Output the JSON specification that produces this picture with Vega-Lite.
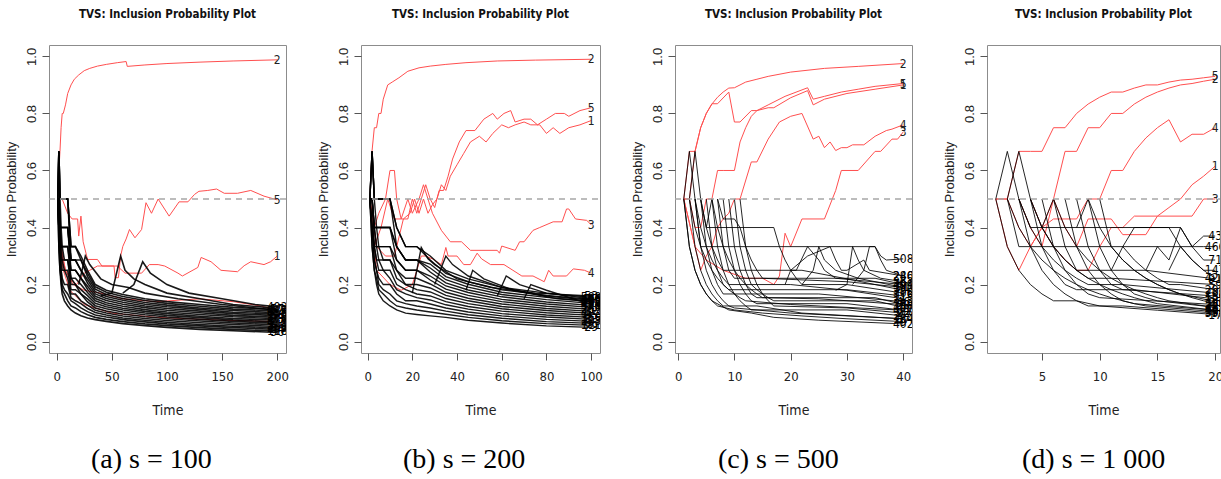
{
"$schema":"https://vega.github.io/schema/vega-lite/v6.json",
"padding":{"left":4,"top":8,"right":0,"bottom":0},
"background":"white",
"config":{
"view":{"stroke":"#8c8c8c","strokeWidth":1},
"font":"Liberation Sans",
"axis":{"grid":false,"domain":false,"ticks":true,"tickColor":"#555555","tickSize":7,"labelColor":"#222222","titleColor":"#222222","titleFontWeight":"normal"},
"axisX":{"labelFont":"Liberation Sans Narrow, DejaVu Sans Condensed, sans-serif","labelFontSize":13,"labelPadding":10,"titleFont":"Liberation Sans Narrow, DejaVu Sans Condensed, sans-serif","titleFontSize":14,"titlePadding":20,"labelFlush":false,"labelOverlap":false},
"axisY":{"labelFont":"Liberation Sans","labelFontSize":13,"labelAngle":-90,"labelAlign":"center","labelBaseline":"bottom","labelPadding":4,"titleFont":"Liberation Sans","titleFontSize":13,"titlePadding":7},
"concat":{"spacing":26}
},
"datasets":{
"aR":[
{"v":"2","t":1,"y":0.5},{"v":"2","t":2,"y":0.6},{"v":"2","t":3,"y":0.667},{"v":"2","t":4,"y":0.75},{"v":"2","t":5,"y":0.8},{"v":"2","t":6,"y":0.8},{"v":"2","t":8,"y":0.83},{"v":"2","t":10,"y":0.87},{"v":"2","t":13,"y":0.9},{"v":"2","t":16,"y":0.92},{"v":"2","t":20,"y":0.935},{"v":"2","t":25,"y":0.95},{"v":"2","t":30,"y":0.958},{"v":"2","t":37,"y":0.966},{"v":"2","t":45,"y":0.972},{"v":"2","t":55,"y":0.978},{"v":"2","t":63,"y":0.982},{"v":"2","t":64,"y":0.965},{"v":"2","t":80,"y":0.97},{"v":"2","t":100,"y":0.975},{"v":"2","t":130,"y":0.98},{"v":"2","t":160,"y":0.984},{"v":"2","t":200,"y":0.988},
{"v":"5","t":1,"y":0.5},{"v":"5","t":3,"y":0.4},{"v":"5","t":5,"y":0.3},{"v":"5","t":8,"y":0.25},{"v":"5","t":12,"y":0.22},{"v":"5","t":18,"y":0.2},{"v":"5","t":25,"y":0.24},{"v":"5","t":30,"y":0.25},{"v":"5","t":37,"y":0.265},{"v":"5","t":52,"y":0.265},{"v":"5","t":53,"y":0.224},{"v":"5","t":56,"y":0.224},{"v":"5","t":58,"y":0.3},{"v":"5","t":60,"y":0.334},{"v":"5","t":63,"y":0.36},{"v":"5","t":66,"y":0.393},{"v":"5","t":71,"y":0.364},{"v":"5","t":77,"y":0.393},{"v":"5","t":81,"y":0.487},{"v":"5","t":86,"y":0.45},{"v":"5","t":92,"y":0.5},{"v":"5","t":102,"y":0.44},{"v":"5","t":111,"y":0.49},{"v":"5","t":119,"y":0.49},{"v":"5","t":125,"y":0.516},{"v":"5","t":129,"y":0.527},{"v":"5","t":137,"y":0.53},{"v":"5","t":145,"y":0.535},{"v":"5","t":152,"y":0.52},{"v":"5","t":164,"y":0.52},{"v":"5","t":176,"y":0.53},{"v":"5","t":188,"y":0.51},{"v":"5","t":200,"y":0.497},
{"v":"1","t":1,"y":0.5},{"v":"1","t":5,"y":0.5},{"v":"1","t":10,"y":0.45},{"v":"1","t":14,"y":0.43},{"v":"1","t":19,"y":0.43},{"v":"1","t":20,"y":0.37},{"v":"1","t":22,"y":0.44},{"v":"1","t":24,"y":0.35},{"v":"1","t":28,"y":0.288},{"v":"1","t":37,"y":0.288},{"v":"1","t":41,"y":0.265},{"v":"1","t":55,"y":0.265},{"v":"1","t":62,"y":0.24},{"v":"1","t":77,"y":0.24},{"v":"1","t":84,"y":0.27},{"v":"1","t":92,"y":0.27},{"v":"1","t":98,"y":0.265},{"v":"1","t":110,"y":0.24},{"v":"1","t":114,"y":0.23},{"v":"1","t":128,"y":0.26},{"v":"1","t":131,"y":0.295},{"v":"1","t":140,"y":0.28},{"v":"1","t":149,"y":0.25},{"v":"1","t":164,"y":0.245},{"v":"1","t":170,"y":0.266},{"v":"1","t":176,"y":0.28},{"v":"1","t":188,"y":0.27},{"v":"1","t":194,"y":0.28},{"v":"1","t":200,"y":0.3},
{"v":"3","t":1,"y":0.5},{"v":"3","t":4,"y":0.333},{"v":"3","t":8,"y":0.25},{"v":"3","t":15,"y":0.2},{"v":"3","t":25,"y":0.18},{"v":"3","t":40,"y":0.17},{"v":"3","t":60,"y":0.15},{"v":"3","t":90,"y":0.14},{"v":"3","t":130,"y":0.15},{"v":"3","t":160,"y":0.14},{"v":"3","t":185,"y":0.125},{"v":"3","t":200,"y":0.11},
{"v":"4","t":1,"y":0.5},{"v":"4","t":3,"y":0.333},{"v":"4","t":6,"y":0.25},{"v":"4","t":12,"y":0.18},{"v":"4","t":25,"y":0.13},{"v":"4","t":50,"y":0.1},{"v":"4","t":90,"y":0.085},{"v":"4","t":150,"y":0.075},{"v":"4","t":200,"y":0.07}
],
"aK":[
{"v":"36","t":1,"y":0.5},{"v":"36","t":2,"y":0.333},{"v":"36","t":3,"y":0.25},{"v":"36","t":4,"y":0.2},{"v":"36","t":5,"y":0.167},{"v":"36","t":7,"y":0.143},{"v":"36","t":10,"y":0.125},{"v":"36","t":13,"y":0.111},{"v":"36","t":17,"y":0.1},{"v":"36","t":22,"y":0.091},{"v":"36","t":28,"y":0.083},{"v":"36","t":35,"y":0.077},{"v":"36","t":45,"y":0.071},{"v":"36","t":60,"y":0.063},{"v":"36","t":80,"y":0.056},{"v":"36","t":100,"y":0.05},{"v":"36","t":130,"y":0.043},{"v":"36","t":160,"y":0.038},{"v":"36","t":200,"y":0.032},
{"v":"118","t":1,"y":0.5},{"v":"118","t":2,"y":0.333},{"v":"118","t":3,"y":0.25},{"v":"118","t":4,"y":0.222},{"v":"118","t":5,"y":0.182},{"v":"118","t":7,"y":0.167},{"v":"118","t":10,"y":0.143},{"v":"118","t":13,"y":0.125},{"v":"118","t":17,"y":0.118},{"v":"118","t":22,"y":0.105},{"v":"118","t":28,"y":0.094},{"v":"118","t":35,"y":0.085},{"v":"118","t":45,"y":0.078},{"v":"118","t":60,"y":0.07},{"v":"118","t":80,"y":0.062},{"v":"118","t":100,"y":0.056},{"v":"118","t":130,"y":0.049},{"v":"118","t":160,"y":0.043},{"v":"118","t":200,"y":0.037},
{"v":"64","t":1,"y":0.5},{"v":"64","t":2,"y":0.4},{"v":"64","t":3,"y":0.286},{"v":"64","t":4,"y":0.25},{"v":"64","t":5,"y":0.2},{"v":"64","t":7,"y":0.182},{"v":"64","t":10,"y":0.167},{"v":"64","t":13,"y":0.143},{"v":"64","t":17,"y":0.133},{"v":"64","t":22,"y":0.118},{"v":"64","t":28,"y":0.105},{"v":"64","t":35,"y":0.093},{"v":"64","t":45,"y":0.086},{"v":"64","t":60,"y":0.077},{"v":"64","t":80,"y":0.069},{"v":"64","t":100,"y":0.062},{"v":"64","t":130,"y":0.055},{"v":"64","t":160,"y":0.049},{"v":"64","t":200,"y":0.043},
{"v":"209","t":1,"y":0.5},{"v":"209","t":2,"y":0.4},{"v":"209","t":3,"y":0.286},{"v":"209","t":4,"y":0.25},{"v":"209","t":5,"y":0.222},{"v":"209","t":7,"y":0.2},{"v":"209","t":10,"y":0.2},{"v":"209","t":13,"y":0.154},{"v":"209","t":17,"y":0.143},{"v":"209","t":22,"y":0.133},{"v":"209","t":28,"y":0.116},{"v":"209","t":35,"y":0.102},{"v":"209","t":45,"y":0.093},{"v":"209","t":60,"y":0.083},{"v":"209","t":80,"y":0.075},{"v":"209","t":100,"y":0.068},{"v":"209","t":130,"y":0.06},{"v":"209","t":160,"y":0.054},{"v":"209","t":200,"y":0.048},
{"v":"301","t":1,"y":0.5},{"v":"301","t":2,"y":0.4},{"v":"301","t":3,"y":0.333},{"v":"301","t":4,"y":0.286},{"v":"301","t":5,"y":0.25},{"v":"301","t":7,"y":0.25},{"v":"301","t":10,"y":0.222},{"v":"301","t":13,"y":0.167},{"v":"301","t":17,"y":0.167},{"v":"301","t":22,"y":0.143},{"v":"301","t":28,"y":0.128},{"v":"301","t":35,"y":0.11},{"v":"301","t":45,"y":0.1},{"v":"301","t":60,"y":0.09},{"v":"301","t":80,"y":0.081},{"v":"301","t":100,"y":0.074},{"v":"301","t":130,"y":0.066},{"v":"301","t":160,"y":0.06},{"v":"301","t":200,"y":0.053},
{"v":"244","t":1,"y":0.5},{"v":"244","t":2,"y":0.4},{"v":"244","t":3,"y":0.333},{"v":"244","t":4,"y":0.286},{"v":"244","t":5,"y":0.286},{"v":"244","t":7,"y":0.25},{"v":"244","t":10,"y":0.25},{"v":"244","t":13,"y":0.182},{"v":"244","t":17,"y":0.182},{"v":"244","t":22,"y":0.167},{"v":"244","t":28,"y":0.139},{"v":"244","t":35,"y":0.118},{"v":"244","t":45,"y":0.107},{"v":"244","t":60,"y":0.097},{"v":"244","t":80,"y":0.087},{"v":"244","t":100,"y":0.08},{"v":"244","t":130,"y":0.072},{"v":"244","t":160,"y":0.065},{"v":"244","t":200,"y":0.059},
{"v":"87","t":1,"y":0.5},{"v":"87","t":2,"y":0.5},{"v":"87","t":3,"y":0.333},{"v":"87","t":4,"y":0.333},{"v":"87","t":5,"y":0.286},{"v":"87","t":7,"y":0.286},{"v":"87","t":10,"y":0.286},{"v":"87","t":13,"y":0.2},{"v":"87","t":17,"y":0.2},{"v":"87","t":22,"y":0.167},{"v":"87","t":28,"y":0.15},{"v":"87","t":35,"y":0.126},{"v":"87","t":45,"y":0.115},{"v":"87","t":60,"y":0.104},{"v":"87","t":80,"y":0.094},{"v":"87","t":100,"y":0.086},{"v":"87","t":130,"y":0.078},{"v":"87","t":160,"y":0.071},{"v":"87","t":200,"y":0.064},
{"v":"412","t":1,"y":0.5},{"v":"412","t":2,"y":0.5},{"v":"412","t":3,"y":0.4},{"v":"412","t":4,"y":0.333},{"v":"412","t":5,"y":0.333},{"v":"412","t":7,"y":0.286},{"v":"412","t":10,"y":0.286},{"v":"412","t":13,"y":0.222},{"v":"412","t":17,"y":0.2},{"v":"412","t":22,"y":0.182},{"v":"412","t":28,"y":0.161},{"v":"412","t":35,"y":0.134},{"v":"412","t":45,"y":0.122},{"v":"412","t":60,"y":0.111},{"v":"412","t":80,"y":0.1},{"v":"412","t":100,"y":0.092},{"v":"412","t":130,"y":0.084},{"v":"412","t":160,"y":0.076},{"v":"412","t":200,"y":0.069},
{"v":"156","t":1,"y":0.5},{"v":"156","t":2,"y":0.5},{"v":"156","t":3,"y":0.4},{"v":"156","t":4,"y":0.333},{"v":"156","t":5,"y":0.333},{"v":"156","t":7,"y":0.333},{"v":"156","t":10,"y":0.333},{"v":"156","t":13,"y":0.222},{"v":"156","t":17,"y":0.222},{"v":"156","t":22,"y":0.2},{"v":"156","t":28,"y":0.172},{"v":"156","t":35,"y":0.143},{"v":"156","t":45,"y":0.129},{"v":"156","t":60,"y":0.117},{"v":"156","t":80,"y":0.106},{"v":"156","t":100,"y":0.098},{"v":"156","t":130,"y":0.089},{"v":"156","t":160,"y":0.081},{"v":"156","t":200,"y":0.075},
{"v":"73","t":1,"y":0.5},{"v":"73","t":2,"y":0.5},{"v":"73","t":3,"y":0.4},{"v":"73","t":4,"y":0.4},{"v":"73","t":5,"y":0.333},{"v":"73","t":7,"y":0.333},{"v":"73","t":10,"y":0.333},{"v":"73","t":13,"y":0.25},{"v":"73","t":17,"y":0.25},{"v":"73","t":22,"y":0.222},{"v":"73","t":28,"y":0.183},{"v":"73","t":35,"y":0.151},{"v":"73","t":45,"y":0.136},{"v":"73","t":60,"y":0.124},{"v":"73","t":80,"y":0.112},{"v":"73","t":100,"y":0.104},{"v":"73","t":130,"y":0.095},{"v":"73","t":160,"y":0.087},{"v":"73","t":200,"y":0.08},
{"v":"329","t":1,"y":0.5},{"v":"329","t":2,"y":0.5},{"v":"329","t":3,"y":0.4},{"v":"329","t":4,"y":0.4},{"v":"329","t":5,"y":0.4},{"v":"329","t":7,"y":0.4},{"v":"329","t":10,"y":0.4},{"v":"329","t":13,"y":0.25},{"v":"329","t":17,"y":0.25},{"v":"329","t":22,"y":0.222},{"v":"329","t":28,"y":0.194},{"v":"329","t":35,"y":0.159},{"v":"329","t":45,"y":0.144},{"v":"329","t":60,"y":0.131},{"v":"329","t":80,"y":0.119},{"v":"329","t":100,"y":0.11},{"v":"329","t":130,"y":0.101},{"v":"329","t":160,"y":0.092},{"v":"329","t":200,"y":0.085},
{"v":"268","t":1,"y":0.5},{"v":"268","t":2,"y":0.5},{"v":"268","t":3,"y":0.4},{"v":"268","t":4,"y":0.4},{"v":"268","t":5,"y":0.4},{"v":"268","t":7,"y":0.4},{"v":"268","t":10,"y":0.4},{"v":"268","t":13,"y":0.286},{"v":"268","t":17,"y":0.286},{"v":"268","t":22,"y":0.25},{"v":"268","t":28,"y":0.205},{"v":"268","t":35,"y":0.167},{"v":"268","t":45,"y":0.151},{"v":"268","t":60,"y":0.138},{"v":"268","t":80,"y":0.125},{"v":"268","t":100,"y":0.116},{"v":"268","t":130,"y":0.107},{"v":"268","t":160,"y":0.098},{"v":"268","t":200,"y":0.091},
{"v":"190","t":1,"y":0.5},{"v":"190","t":2,"y":0.667},{"v":"190","t":3,"y":0.5},{"v":"190","t":4,"y":0.4},{"v":"190","t":5,"y":0.4},{"v":"190","t":7,"y":0.4},{"v":"190","t":10,"y":0.4},{"v":"190","t":13,"y":0.286},{"v":"190","t":17,"y":0.286},{"v":"190","t":22,"y":0.25},{"v":"190","t":28,"y":0.217},{"v":"190","t":35,"y":0.175},{"v":"190","t":45,"y":0.158},{"v":"190","t":60,"y":0.145},{"v":"190","t":80,"y":0.131},{"v":"190","t":100,"y":0.122},{"v":"190","t":130,"y":0.113},{"v":"190","t":160,"y":0.103},{"v":"190","t":200,"y":0.096},
{"v":"455","t":1,"y":0.5},{"v":"455","t":2,"y":0.667},{"v":"455","t":3,"y":0.5},{"v":"455","t":4,"y":0.5},{"v":"455","t":5,"y":0.5},{"v":"455","t":7,"y":0.5},{"v":"455","t":10,"y":0.5},{"v":"455","t":13,"y":0.286},{"v":"455","t":17,"y":0.286},{"v":"455","t":22,"y":0.286},{"v":"455","t":28,"y":0.228},{"v":"455","t":35,"y":0.184},{"v":"455","t":45,"y":0.165},{"v":"455","t":60,"y":0.151},{"v":"455","t":80,"y":0.137},{"v":"455","t":100,"y":0.128},{"v":"455","t":130,"y":0.118},{"v":"455","t":160,"y":0.109},{"v":"455","t":200,"y":0.101},
{"v":"377","t":1,"y":0.5},{"v":"377","t":2,"y":0.667},{"v":"377","t":3,"y":0.5},{"v":"377","t":4,"y":0.5},{"v":"377","t":5,"y":0.5},{"v":"377","t":7,"y":0.5},{"v":"377","t":10,"y":0.5},{"v":"377","t":13,"y":0.333},{"v":"377","t":17,"y":0.333},{"v":"377","t":22,"y":0.286},{"v":"377","t":28,"y":0.239},{"v":"377","t":35,"y":0.192},{"v":"377","t":45,"y":0.173},{"v":"377","t":60,"y":0.158},{"v":"377","t":80,"y":0.144},{"v":"377","t":100,"y":0.134},{"v":"377","t":130,"y":0.124},{"v":"377","t":160,"y":0.114},{"v":"377","t":200,"y":0.107},
{"v":"433","t":1,"y":0.5},{"v":"433","t":2,"y":0.667},{"v":"433","t":3,"y":0.5},{"v":"433","t":4,"y":0.5},{"v":"433","t":5,"y":0.5},{"v":"433","t":7,"y":0.5},{"v":"433","t":10,"y":0.5},{"v":"433","t":13,"y":0.333},{"v":"433","t":17,"y":0.333},{"v":"433","t":22,"y":0.3},{"v":"433","t":28,"y":0.25},{"v":"433","t":35,"y":0.2},{"v":"433","t":45,"y":0.18},{"v":"433","t":60,"y":0.165},{"v":"433","t":80,"y":0.15},{"v":"433","t":100,"y":0.14},{"v":"433","t":130,"y":0.13},{"v":"433","t":160,"y":0.12},{"v":"433","t":200,"y":0.112},
{"v":"57","t":40,"y":0.16},{"v":"57","t":50,"y":0.17},{"v":"57","t":58,"y":0.3},{"v":"57","t":62,"y":0.25},{"v":"57","t":70,"y":0.22},{"v":"57","t":80,"y":0.2},{"v":"57","t":100,"y":0.17},{"v":"57","t":130,"y":0.15},{"v":"57","t":160,"y":0.13},{"v":"57","t":190,"y":0.12},{"v":"57","t":200,"y":0.115},
{"v":"492","t":60,"y":0.17},{"v":"492","t":70,"y":0.2},{"v":"492","t":78,"y":0.28},{"v":"492","t":85,"y":0.24},{"v":"492","t":100,"y":0.2},{"v":"492","t":120,"y":0.17},{"v":"492","t":150,"y":0.15},{"v":"492","t":180,"y":0.13},{"v":"492","t":200,"y":0.122},
{"v":"12","t":20,"y":0.2},{"v":"12","t":26,"y":0.3},{"v":"12","t":30,"y":0.27},{"v":"12","t":40,"y":0.22},{"v":"12","t":50,"y":0.2},{"v":"12","t":65,"y":0.19},{"v":"12","t":80,"y":0.17},{"v":"12","t":110,"y":0.15},{"v":"12","t":150,"y":0.13},{"v":"12","t":200,"y":0.11}
],
"bR":[
{"v":"2","t":1,"y":0.5},{"v":"2","t":2,"y":0.67},{"v":"2","t":3,"y":0.75},{"v":"2","t":4,"y":0.75},{"v":"2","t":5,"y":0.8},{"v":"2","t":6,"y":0.8},{"v":"2","t":7,"y":0.85},{"v":"2","t":9,"y":0.9},{"v":"2","t":11,"y":0.91},{"v":"2","t":14,"y":0.925},{"v":"2","t":18,"y":0.948},{"v":"2","t":23,"y":0.96},{"v":"2","t":28,"y":0.966},{"v":"2","t":35,"y":0.972},{"v":"2","t":44,"y":0.978},{"v":"2","t":58,"y":0.984},{"v":"2","t":75,"y":0.987},{"v":"2","t":100,"y":0.99},
{"v":"5","t":1,"y":0.5},{"v":"5","t":3,"y":0.4},{"v":"5","t":5,"y":0.45},{"v":"5","t":8,"y":0.5},{"v":"5","t":10,"y":0.6},{"v":"5","t":12,"y":0.6},{"v":"5","t":13,"y":0.5},{"v":"5","t":15,"y":0.43},{"v":"5","t":18,"y":0.43},{"v":"5","t":20,"y":0.5},{"v":"5","t":22,"y":0.45},{"v":"5","t":24,"y":0.5},{"v":"5","t":26,"y":0.55},{"v":"5","t":28,"y":0.5},{"v":"5","t":30,"y":0.47},{"v":"5","t":32,"y":0.53},{"v":"5","t":34,"y":0.53},{"v":"5","t":36,"y":0.58},{"v":"5","t":38,"y":0.64},{"v":"5","t":41,"y":0.7},{"v":"5","t":44,"y":0.74},{"v":"5","t":48,"y":0.74},{"v":"5","t":52,"y":0.78},{"v":"5","t":56,"y":0.8},{"v":"5","t":58,"y":0.78},{"v":"5","t":61,"y":0.8},{"v":"5","t":64,"y":0.81},{"v":"5","t":66,"y":0.77},{"v":"5","t":70,"y":0.78},{"v":"5","t":73,"y":0.78},{"v":"5","t":76,"y":0.76},{"v":"5","t":80,"y":0.78},{"v":"5","t":84,"y":0.8},{"v":"5","t":88,"y":0.8},{"v":"5","t":90,"y":0.79},{"v":"5","t":95,"y":0.81},{"v":"5","t":100,"y":0.82},
{"v":"1","t":1,"y":0.5},{"v":"1","t":4,"y":0.333},{"v":"1","t":8,"y":0.3},{"v":"1","t":12,"y":0.3},{"v":"1","t":16,"y":0.43},{"v":"1","t":19,"y":0.45},{"v":"1","t":21,"y":0.5},{"v":"1","t":23,"y":0.45},{"v":"1","t":25,"y":0.5},{"v":"1","t":27,"y":0.45},{"v":"1","t":29,"y":0.48},{"v":"1","t":31,"y":0.5},{"v":"1","t":33,"y":0.55},{"v":"1","t":35,"y":0.53},{"v":"1","t":37,"y":0.58},{"v":"1","t":40,"y":0.62},{"v":"1","t":43,"y":0.66},{"v":"1","t":46,"y":0.7},{"v":"1","t":50,"y":0.72},{"v":"1","t":53,"y":0.7},{"v":"1","t":56,"y":0.73},{"v":"1","t":60,"y":0.76},{"v":"1","t":63,"y":0.75},{"v":"1","t":66,"y":0.76},{"v":"1","t":70,"y":0.77},{"v":"1","t":73,"y":0.76},{"v":"1","t":77,"y":0.76},{"v":"1","t":80,"y":0.73},{"v":"1","t":83,"y":0.75},{"v":"1","t":86,"y":0.73},{"v":"1","t":90,"y":0.75},{"v":"1","t":95,"y":0.76},{"v":"1","t":100,"y":0.775},
{"v":"3","t":1,"y":0.5},{"v":"3","t":3,"y":0.333},{"v":"3","t":6,"y":0.4},{"v":"3","t":9,"y":0.5},{"v":"3","t":12,"y":0.43},{"v":"3","t":15,"y":0.43},{"v":"3","t":18,"y":0.5},{"v":"3","t":20,"y":0.45},{"v":"3","t":23,"y":0.5},{"v":"3","t":25,"y":0.55},{"v":"3","t":27,"y":0.5},{"v":"3","t":29,"y":0.45},{"v":"3","t":33,"y":0.39},{"v":"3","t":37,"y":0.35},{"v":"3","t":42,"y":0.35},{"v":"3","t":46,"y":0.32},{"v":"3","t":58,"y":0.32},{"v":"3","t":59,"y":0.31},{"v":"3","t":60,"y":0.335},{"v":"3","t":66,"y":0.32},{"v":"3","t":68,"y":0.35},{"v":"3","t":70,"y":0.35},{"v":"3","t":74,"y":0.39},{"v":"3","t":77,"y":0.4},{"v":"3","t":83,"y":0.42},{"v":"3","t":87,"y":0.42},{"v":"3","t":89,"y":0.465},{"v":"3","t":90,"y":0.465},{"v":"3","t":93,"y":0.43},{"v":"3","t":98,"y":0.425},{"v":"3","t":100,"y":0.41},
{"v":"4","t":1,"y":0.5},{"v":"4","t":4,"y":0.25},{"v":"4","t":10,"y":0.2},{"v":"4","t":15,"y":0.18},{"v":"4","t":20,"y":0.2},{"v":"4","t":22,"y":0.25},{"v":"4","t":24,"y":0.3},{"v":"4","t":26,"y":0.3},{"v":"4","t":29,"y":0.29},{"v":"4","t":33,"y":0.27},{"v":"4","t":35,"y":0.33},{"v":"4","t":36,"y":0.3},{"v":"4","t":40,"y":0.3},{"v":"4","t":43,"y":0.27},{"v":"4","t":46,"y":0.27},{"v":"4","t":49,"y":0.31},{"v":"4","t":51,"y":0.29},{"v":"4","t":55,"y":0.27},{"v":"4","t":61,"y":0.27},{"v":"4","t":65,"y":0.25},{"v":"4","t":69,"y":0.23},{"v":"4","t":74,"y":0.23},{"v":"4","t":79,"y":0.21},{"v":"4","t":81,"y":0.25},{"v":"4","t":83,"y":0.23},{"v":"4","t":89,"y":0.23},{"v":"4","t":92,"y":0.255},{"v":"4","t":97,"y":0.25},{"v":"4","t":100,"y":0.24}
],
"bK":[
{"v":"29","t":1,"y":0.5},{"v":"29","t":2,"y":0.333},{"v":"29","t":3,"y":0.25},{"v":"29","t":4,"y":0.2},{"v":"29","t":5,"y":0.167},{"v":"29","t":7,"y":0.143},{"v":"29","t":10,"y":0.125},{"v":"29","t":13,"y":0.111},{"v":"29","t":17,"y":0.1},{"v":"29","t":22,"y":0.095},{"v":"29","t":28,"y":0.09},{"v":"29","t":35,"y":0.085},{"v":"29","t":45,"y":0.075},{"v":"29","t":60,"y":0.065},{"v":"29","t":80,"y":0.055},{"v":"29","t":100,"y":0.05},
{"v":"111","t":1,"y":0.5},{"v":"111","t":2,"y":0.333},{"v":"111","t":3,"y":0.25},{"v":"111","t":4,"y":0.222},{"v":"111","t":5,"y":0.182},{"v":"111","t":7,"y":0.167},{"v":"111","t":10,"y":0.143},{"v":"111","t":13,"y":0.125},{"v":"111","t":17,"y":0.118},{"v":"111","t":22,"y":0.111},{"v":"111","t":28,"y":0.104},{"v":"111","t":35,"y":0.096},{"v":"111","t":45,"y":0.085},{"v":"111","t":60,"y":0.073},{"v":"111","t":80,"y":0.063},{"v":"111","t":100,"y":0.057},
{"v":"66","t":1,"y":0.5},{"v":"66","t":2,"y":0.4},{"v":"66","t":3,"y":0.286},{"v":"66","t":4,"y":0.25},{"v":"66","t":5,"y":0.2},{"v":"66","t":7,"y":0.182},{"v":"66","t":10,"y":0.167},{"v":"66","t":13,"y":0.143},{"v":"66","t":17,"y":0.133},{"v":"66","t":22,"y":0.125},{"v":"66","t":28,"y":0.118},{"v":"66","t":35,"y":0.107},{"v":"66","t":45,"y":0.094},{"v":"66","t":60,"y":0.082},{"v":"66","t":80,"y":0.07},{"v":"66","t":100,"y":0.064},
{"v":"203","t":1,"y":0.5},{"v":"203","t":2,"y":0.4},{"v":"203","t":3,"y":0.286},{"v":"203","t":4,"y":0.25},{"v":"203","t":5,"y":0.222},{"v":"203","t":7,"y":0.2},{"v":"203","t":10,"y":0.2},{"v":"203","t":13,"y":0.167},{"v":"203","t":17,"y":0.143},{"v":"203","t":22,"y":0.143},{"v":"203","t":28,"y":0.132},{"v":"203","t":35,"y":0.118},{"v":"203","t":45,"y":0.104},{"v":"203","t":60,"y":0.09},{"v":"203","t":80,"y":0.078},{"v":"203","t":100,"y":0.071},
{"v":"315","t":1,"y":0.5},{"v":"315","t":2,"y":0.4},{"v":"315","t":3,"y":0.333},{"v":"315","t":4,"y":0.286},{"v":"315","t":5,"y":0.25},{"v":"315","t":7,"y":0.25},{"v":"315","t":10,"y":0.222},{"v":"315","t":13,"y":0.182},{"v":"315","t":17,"y":0.167},{"v":"315","t":22,"y":0.154},{"v":"315","t":28,"y":0.146},{"v":"315","t":35,"y":0.129},{"v":"315","t":45,"y":0.114},{"v":"315","t":60,"y":0.098},{"v":"315","t":80,"y":0.086},{"v":"315","t":100,"y":0.078},
{"v":"150","t":1,"y":0.5},{"v":"150","t":2,"y":0.4},{"v":"150","t":3,"y":0.333},{"v":"150","t":4,"y":0.286},{"v":"150","t":5,"y":0.286},{"v":"150","t":7,"y":0.25},{"v":"150","t":10,"y":0.25},{"v":"150","t":13,"y":0.2},{"v":"150","t":17,"y":0.182},{"v":"150","t":22,"y":0.167},{"v":"150","t":28,"y":0.16},{"v":"150","t":35,"y":0.14},{"v":"150","t":45,"y":0.123},{"v":"150","t":60,"y":0.107},{"v":"150","t":80,"y":0.093},{"v":"150","t":100,"y":0.085},
{"v":"95","t":1,"y":0.5},{"v":"95","t":2,"y":0.5},{"v":"95","t":3,"y":0.333},{"v":"95","t":4,"y":0.333},{"v":"95","t":5,"y":0.286},{"v":"95","t":7,"y":0.286},{"v":"95","t":10,"y":0.286},{"v":"95","t":13,"y":0.222},{"v":"95","t":17,"y":0.2},{"v":"95","t":22,"y":0.182},{"v":"95","t":28,"y":0.174},{"v":"95","t":35,"y":0.151},{"v":"95","t":45,"y":0.133},{"v":"95","t":60,"y":0.115},{"v":"95","t":80,"y":0.101},{"v":"95","t":100,"y":0.092},
{"v":"422","t":1,"y":0.5},{"v":"422","t":2,"y":0.5},{"v":"422","t":3,"y":0.4},{"v":"422","t":4,"y":0.333},{"v":"422","t":5,"y":0.333},{"v":"422","t":7,"y":0.286},{"v":"422","t":10,"y":0.286},{"v":"422","t":13,"y":0.25},{"v":"422","t":17,"y":0.2},{"v":"422","t":22,"y":0.2},{"v":"422","t":28,"y":0.188},{"v":"422","t":35,"y":0.162},{"v":"422","t":45,"y":0.143},{"v":"422","t":60,"y":0.123},{"v":"422","t":80,"y":0.109},{"v":"422","t":100,"y":0.099},
{"v":"12","t":1,"y":0.5},{"v":"12","t":2,"y":0.5},{"v":"12","t":3,"y":0.4},{"v":"12","t":4,"y":0.333},{"v":"12","t":5,"y":0.333},{"v":"12","t":7,"y":0.333},{"v":"12","t":10,"y":0.333},{"v":"12","t":13,"y":0.25},{"v":"12","t":17,"y":0.222},{"v":"12","t":22,"y":0.222},{"v":"12","t":28,"y":0.202},{"v":"12","t":35,"y":0.173},{"v":"12","t":45,"y":0.152},{"v":"12","t":60,"y":0.132},{"v":"12","t":80,"y":0.116},{"v":"12","t":100,"y":0.106},
{"v":"267","t":1,"y":0.5},{"v":"267","t":2,"y":0.5},{"v":"267","t":3,"y":0.4},{"v":"267","t":4,"y":0.4},{"v":"267","t":5,"y":0.333},{"v":"267","t":7,"y":0.333},{"v":"267","t":10,"y":0.333},{"v":"267","t":13,"y":0.286},{"v":"267","t":17,"y":0.25},{"v":"267","t":22,"y":0.25},{"v":"267","t":28,"y":0.216},{"v":"267","t":35,"y":0.184},{"v":"267","t":45,"y":0.162},{"v":"267","t":60,"y":0.14},{"v":"267","t":80,"y":0.124},{"v":"267","t":100,"y":0.113},
{"v":"340","t":1,"y":0.5},{"v":"340","t":2,"y":0.5},{"v":"340","t":3,"y":0.4},{"v":"340","t":4,"y":0.4},{"v":"340","t":5,"y":0.4},{"v":"340","t":7,"y":0.4},{"v":"340","t":10,"y":0.4},{"v":"340","t":13,"y":0.286},{"v":"340","t":17,"y":0.25},{"v":"340","t":22,"y":0.25},{"v":"340","t":28,"y":0.23},{"v":"340","t":35,"y":0.195},{"v":"340","t":45,"y":0.172},{"v":"340","t":60,"y":0.148},{"v":"340","t":80,"y":0.132},{"v":"340","t":100,"y":0.12},
{"v":"471","t":1,"y":0.5},{"v":"471","t":2,"y":0.5},{"v":"471","t":3,"y":0.4},{"v":"471","t":4,"y":0.4},{"v":"471","t":5,"y":0.4},{"v":"471","t":7,"y":0.4},{"v":"471","t":10,"y":0.4},{"v":"471","t":13,"y":0.333},{"v":"471","t":17,"y":0.286},{"v":"471","t":22,"y":0.286},{"v":"471","t":28,"y":0.244},{"v":"471","t":35,"y":0.206},{"v":"471","t":45,"y":0.181},{"v":"471","t":60,"y":0.157},{"v":"471","t":80,"y":0.139},{"v":"471","t":100,"y":0.127},
{"v":"238","t":1,"y":0.5},{"v":"238","t":2,"y":0.667},{"v":"238","t":3,"y":0.5},{"v":"238","t":4,"y":0.4},{"v":"238","t":5,"y":0.4},{"v":"238","t":7,"y":0.4},{"v":"238","t":10,"y":0.4},{"v":"238","t":13,"y":0.333},{"v":"238","t":17,"y":0.286},{"v":"238","t":22,"y":0.286},{"v":"238","t":28,"y":0.258},{"v":"238","t":35,"y":0.217},{"v":"238","t":45,"y":0.191},{"v":"238","t":60,"y":0.165},{"v":"238","t":80,"y":0.147},{"v":"238","t":100,"y":0.134},
{"v":"384","t":1,"y":0.5},{"v":"384","t":2,"y":0.667},{"v":"384","t":3,"y":0.5},{"v":"384","t":4,"y":0.5},{"v":"384","t":5,"y":0.5},{"v":"384","t":7,"y":0.5},{"v":"384","t":10,"y":0.5},{"v":"384","t":13,"y":0.333},{"v":"384","t":17,"y":0.286},{"v":"384","t":22,"y":0.286},{"v":"384","t":28,"y":0.272},{"v":"384","t":35,"y":0.228},{"v":"384","t":45,"y":0.201},{"v":"384","t":60,"y":0.173},{"v":"384","t":80,"y":0.155},{"v":"384","t":100,"y":0.141},
{"v":"496","t":1,"y":0.5},{"v":"496","t":2,"y":0.667},{"v":"496","t":3,"y":0.5},{"v":"496","t":4,"y":0.5},{"v":"496","t":5,"y":0.5},{"v":"496","t":7,"y":0.5},{"v":"496","t":10,"y":0.5},{"v":"496","t":13,"y":0.4},{"v":"496","t":17,"y":0.333},{"v":"496","t":22,"y":0.333},{"v":"496","t":28,"y":0.286},{"v":"496","t":35,"y":0.239},{"v":"496","t":45,"y":0.21},{"v":"496","t":60,"y":0.182},{"v":"496","t":80,"y":0.162},{"v":"496","t":100,"y":0.148},
{"v":"588","t":1,"y":0.5},{"v":"588","t":2,"y":0.667},{"v":"588","t":3,"y":0.5},{"v":"588","t":4,"y":0.5},{"v":"588","t":5,"y":0.5},{"v":"588","t":7,"y":0.5},{"v":"588","t":10,"y":0.5},{"v":"588","t":13,"y":0.4},{"v":"588","t":17,"y":0.333},{"v":"588","t":22,"y":0.333},{"v":"588","t":28,"y":0.3},{"v":"588","t":35,"y":0.25},{"v":"588","t":45,"y":0.22},{"v":"588","t":60,"y":0.19},{"v":"588","t":80,"y":0.17},{"v":"588","t":100,"y":0.155},
{"v":"53","t":20,"y":0.17},{"v":"53","t":24,"y":0.33},{"v":"53","t":27,"y":0.29},{"v":"53","t":30,"y":0.27},{"v":"53","t":40,"y":0.22},{"v":"53","t":55,"y":0.19},{"v":"53","t":75,"y":0.17},{"v":"53","t":100,"y":0.16},
{"v":"179","t":30,"y":0.2},{"v":"179","t":35,"y":0.3},{"v":"179","t":38,"y":0.27},{"v":"179","t":45,"y":0.23},{"v":"179","t":60,"y":0.19},{"v":"179","t":80,"y":0.16},{"v":"179","t":100,"y":0.145},
{"v":"402","t":44,"y":0.18},{"v":"402","t":47,"y":0.25},{"v":"402","t":52,"y":0.22},{"v":"402","t":65,"y":0.18},{"v":"402","t":85,"y":0.15},{"v":"402","t":100,"y":0.14},
{"v":"77","t":58,"y":0.16},{"v":"77","t":62,"y":0.23},{"v":"77","t":68,"y":0.2},{"v":"77","t":80,"y":0.17},{"v":"77","t":100,"y":0.15},
{"v":"350","t":70,"y":0.15},{"v":"350","t":73,"y":0.2},{"v":"350","t":80,"y":0.18},{"v":"350","t":100,"y":0.13}
],
"cR":[
{"v":"2","t":1,"y":0.5},{"v":"2","t":2,"y":0.5},{"v":"2","t":3,"y":0.667},{"v":"2","t":4,"y":0.75},{"v":"2","t":5,"y":0.8},{"v":"2","t":6,"y":0.833},{"v":"2","t":7,"y":0.857},{"v":"2","t":8,"y":0.875},{"v":"2","t":9,"y":0.889},{"v":"2","t":10,"y":0.89},{"v":"2","t":12,"y":0.91},{"v":"2","t":14,"y":0.92},{"v":"2","t":16,"y":0.93},{"v":"2","t":20,"y":0.945},{"v":"2","t":26,"y":0.958},{"v":"2","t":32,"y":0.965},{"v":"2","t":40,"y":0.975},
{"v":"5","t":1,"y":0.5},{"v":"5","t":2,"y":0.667},{"v":"5","t":3,"y":0.667},{"v":"5","t":4,"y":0.75},{"v":"5","t":5,"y":0.8},{"v":"5","t":6,"y":0.834},{"v":"5","t":7,"y":0.834},{"v":"5","t":9,"y":0.875},{"v":"5","t":10,"y":0.77},{"v":"5","t":11,"y":0.77},{"v":"5","t":13,"y":0.81},{"v":"5","t":14,"y":0.81},{"v":"5","t":16,"y":0.83},{"v":"5","t":19,"y":0.86},{"v":"5","t":23,"y":0.89},{"v":"5","t":24,"y":0.85},{"v":"5","t":26,"y":0.86},{"v":"5","t":29,"y":0.875},{"v":"5","t":32,"y":0.885},{"v":"5","t":35,"y":0.895},{"v":"5","t":40,"y":0.905},
{"v":"1","t":1,"y":0.5},{"v":"1","t":2,"y":0.5},{"v":"1","t":3,"y":0.4},{"v":"1","t":4,"y":0.4},{"v":"1","t":5,"y":0.5},{"v":"1","t":6,"y":0.5},{"v":"1","t":7,"y":0.6},{"v":"1","t":8,"y":0.6},{"v":"1","t":10,"y":0.6},{"v":"1","t":11,"y":0.7},{"v":"1","t":12,"y":0.75},{"v":"1","t":13,"y":0.79},{"v":"1","t":14,"y":0.81},{"v":"1","t":16,"y":0.82},{"v":"1","t":17,"y":0.82},{"v":"1","t":20,"y":0.855},{"v":"1","t":23,"y":0.88},{"v":"1","t":24,"y":0.83},{"v":"1","t":26,"y":0.85},{"v":"1","t":30,"y":0.87},{"v":"1","t":35,"y":0.885},{"v":"1","t":40,"y":0.9},
{"v":"4","t":1,"y":0.5},{"v":"4","t":3,"y":0.333},{"v":"4","t":4,"y":0.25},{"v":"4","t":5,"y":0.3},{"v":"4","t":6,"y":0.333},{"v":"4","t":7,"y":0.4},{"v":"4","t":8,"y":0.43},{"v":"4","t":9,"y":0.45},{"v":"4","t":10,"y":0.5},{"v":"4","t":11,"y":0.5},{"v":"4","t":13,"y":0.63},{"v":"4","t":14,"y":0.63},{"v":"4","t":16,"y":0.71},{"v":"4","t":18,"y":0.77},{"v":"4","t":20,"y":0.79},{"v":"4","t":22,"y":0.8},{"v":"4","t":24,"y":0.71},{"v":"4","t":25,"y":0.72},{"v":"4","t":26,"y":0.68},{"v":"4","t":27,"y":0.7},{"v":"4","t":28,"y":0.67},{"v":"4","t":29,"y":0.68},{"v":"4","t":30,"y":0.68},{"v":"4","t":31,"y":0.69},{"v":"4","t":33,"y":0.69},{"v":"4","t":35,"y":0.72},{"v":"4","t":37,"y":0.74},{"v":"4","t":38,"y":0.745},{"v":"4","t":40,"y":0.76},
{"v":"3","t":1,"y":0.5},{"v":"3","t":3,"y":0.333},{"v":"3","t":5,"y":0.286},{"v":"3","t":8,"y":0.25},{"v":"3","t":12,"y":0.222},{"v":"3","t":15,"y":0.222},{"v":"3","t":17,"y":0.2},{"v":"3","t":18,"y":0.23},{"v":"3","t":19,"y":0.38},{"v":"3","t":20,"y":0.333},{"v":"3","t":22,"y":0.43},{"v":"3","t":26,"y":0.43},{"v":"3","t":28,"y":0.53},{"v":"3","t":29,"y":0.6},{"v":"3","t":32,"y":0.6},{"v":"3","t":35,"y":0.667},{"v":"3","t":36,"y":0.667},{"v":"3","t":38,"y":0.71},{"v":"3","t":39,"y":0.71},{"v":"3","t":40,"y":0.735}
],
"cK":[
{"v":"402","t":1,"y":0.5},{"v":"402","t":2,"y":0.333},{"v":"402","t":3,"y":0.25},{"v":"402","t":4,"y":0.2},{"v":"402","t":5,"y":0.167},{"v":"402","t":6,"y":0.143},{"v":"402","t":9,"y":0.111},{"v":"402","t":13,"y":0.1},{"v":"402","t":17,"y":0.085},{"v":"402","t":25,"y":0.075},{"v":"402","t":40,"y":0.062},
{"v":"87","t":2,"y":0.5},{"v":"87","t":3,"y":0.333},{"v":"87","t":4,"y":0.25},{"v":"87","t":5,"y":0.2},{"v":"87","t":6,"y":0.167},{"v":"87","t":7,"y":0.143},{"v":"87","t":8,"y":0.125},{"v":"87","t":14,"y":0.125},{"v":"87","t":22,"y":0.1},{"v":"87","t":40,"y":0.08},
{"v":"215","t":1,"y":0.5},{"v":"215","t":2,"y":0.667},{"v":"215","t":3,"y":0.5},{"v":"215","t":4,"y":0.4},{"v":"215","t":5,"y":0.333},{"v":"215","t":6,"y":0.286},{"v":"215","t":7,"y":0.25},{"v":"215","t":8,"y":0.222},{"v":"215","t":9,"y":0.2},{"v":"215","t":20,"y":0.2},{"v":"215","t":30,"y":0.18},{"v":"215","t":40,"y":0.15},
{"v":"330","t":2,"y":0.5},{"v":"330","t":3,"y":0.667},{"v":"330","t":4,"y":0.5},{"v":"330","t":5,"y":0.4},{"v":"330","t":6,"y":0.333},{"v":"330","t":7,"y":0.286},{"v":"330","t":8,"y":0.25},{"v":"330","t":22,"y":0.25},{"v":"330","t":30,"y":0.22},{"v":"330","t":40,"y":0.18},
{"v":"508","t":3,"y":0.5},{"v":"508","t":4,"y":0.333},{"v":"508","t":35,"y":0.333},{"v":"508","t":36,"y":0.3},{"v":"508","t":37,"y":0.286},{"v":"508","t":40,"y":0.29},
{"v":"46","t":4,"y":0.5},{"v":"46","t":5,"y":0.333},{"v":"46","t":6,"y":0.25},{"v":"46","t":7,"y":0.2},{"v":"46","t":8,"y":0.167},{"v":"46","t":25,"y":0.167},{"v":"46","t":40,"y":0.14},
{"v":"119","t":5,"y":0.5},{"v":"119","t":6,"y":0.333},{"v":"119","t":7,"y":0.25},{"v":"119","t":8,"y":0.2},{"v":"119","t":9,"y":0.182},{"v":"119","t":30,"y":0.182},{"v":"119","t":40,"y":0.16},
{"v":"273","t":6,"y":0.5},{"v":"273","t":7,"y":0.333},{"v":"273","t":8,"y":0.25},{"v":"273","t":9,"y":0.2},{"v":"273","t":10,"y":0.167},{"v":"273","t":11,"y":0.143},{"v":"273","t":12,"y":0.125},{"v":"273","t":13,"y":0.111},{"v":"273","t":30,"y":0.111},{"v":"273","t":40,"y":0.09},
{"v":"391","t":7,"y":0.5},{"v":"391","t":8,"y":0.333},{"v":"391","t":9,"y":0.25},{"v":"391","t":10,"y":0.222},{"v":"391","t":35,"y":0.222},{"v":"391","t":40,"y":0.2},
{"v":"64","t":8,"y":0.5},{"v":"64","t":9,"y":0.333},{"v":"64","t":10,"y":0.25},{"v":"64","t":11,"y":0.2},{"v":"64","t":12,"y":0.167},{"v":"64","t":13,"y":0.143},{"v":"64","t":14,"y":0.133},{"v":"64","t":30,"y":0.133},{"v":"64","t":40,"y":0.11},
{"v":"158","t":9,"y":0.5},{"v":"158","t":10,"y":0.333},{"v":"158","t":11,"y":0.25},{"v":"158","t":12,"y":0.2},{"v":"158","t":13,"y":0.167},{"v":"158","t":14,"y":0.154},{"v":"158","t":35,"y":0.154},{"v":"158","t":40,"y":0.13},
{"v":"447","t":10,"y":0.5},{"v":"447","t":11,"y":0.333},{"v":"447","t":12,"y":0.25},{"v":"447","t":13,"y":0.2},{"v":"447","t":14,"y":0.182},{"v":"447","t":15,"y":0.167},{"v":"447","t":16,"y":0.154},{"v":"447","t":17,"y":0.143},{"v":"447","t":35,"y":0.143},{"v":"447","t":40,"y":0.12},
{"v":"22","t":11,"y":0.5},{"v":"22","t":12,"y":0.333},{"v":"22","t":13,"y":0.25},{"v":"22","t":14,"y":0.2},{"v":"22","t":15,"y":0.167},{"v":"22","t":16,"y":0.143},{"v":"22","t":17,"y":0.125},{"v":"22","t":30,"y":0.118},{"v":"22","t":40,"y":0.1},
{"v":"306","t":4,"y":0.5},{"v":"306","t":5,"y":0.4},{"v":"306","t":17,"y":0.4},{"v":"306","t":18,"y":0.333},{"v":"306","t":19,"y":0.286},{"v":"306","t":20,"y":0.25},{"v":"306","t":21,"y":0.222},{"v":"306","t":22,"y":0.2},{"v":"306","t":30,"y":0.2},{"v":"306","t":40,"y":0.17},
{"v":"183","t":7,"y":0.5},{"v":"183","t":8,"y":0.43},{"v":"183","t":10,"y":0.43},{"v":"183","t":11,"y":0.4},{"v":"183","t":12,"y":0.333},{"v":"183","t":13,"y":0.286},{"v":"183","t":14,"y":0.25},{"v":"183","t":15,"y":0.222},{"v":"183","t":30,"y":0.21},{"v":"183","t":40,"y":0.19},
{"v":"499","t":19,"y":0.2},{"v":"499","t":20,"y":0.25},{"v":"499","t":21,"y":0.25},{"v":"499","t":23,"y":0.333},{"v":"499","t":25,"y":0.286},{"v":"499","t":26,"y":0.25},{"v":"499","t":28,"y":0.222},{"v":"499","t":40,"y":0.2},
{"v":"71","t":22,"y":0.2},{"v":"71","t":24,"y":0.25},{"v":"71","t":25,"y":0.333},{"v":"71","t":26,"y":0.286},{"v":"71","t":28,"y":0.25},{"v":"71","t":32,"y":0.222},{"v":"71","t":40,"y":0.19},
{"v":"362","t":28,"y":0.18},{"v":"362","t":30,"y":0.2},{"v":"362","t":31,"y":0.333},{"v":"362","t":32,"y":0.286},{"v":"362","t":33,"y":0.25},{"v":"362","t":36,"y":0.222},{"v":"362","t":40,"y":0.21},
{"v":"240","t":31,"y":0.2},{"v":"240","t":33,"y":0.25},{"v":"240","t":34,"y":0.333},{"v":"240","t":35,"y":0.333},{"v":"240","t":36,"y":0.286},{"v":"240","t":37,"y":0.25},{"v":"240","t":40,"y":0.23},
{"v":"9","t":1,"y":0.5},{"v":"9","t":2,"y":0.333},{"v":"9","t":3,"y":0.25},{"v":"9","t":4,"y":0.2},{"v":"9","t":5,"y":0.167},{"v":"9","t":6,"y":0.143},{"v":"9","t":7,"y":0.125},{"v":"9","t":10,"y":0.111},{"v":"9","t":15,"y":0.1},{"v":"9","t":22,"y":0.09},{"v":"9","t":30,"y":0.08},{"v":"9","t":40,"y":0.07},
{"v":"134","t":3,"y":0.5},{"v":"134","t":4,"y":0.333},{"v":"134","t":5,"y":0.25},{"v":"134","t":6,"y":0.2},{"v":"134","t":7,"y":0.167},{"v":"134","t":8,"y":0.143},{"v":"134","t":9,"y":0.125},{"v":"134","t":10,"y":0.118},{"v":"134","t":20,"y":0.1},{"v":"134","t":40,"y":0.08},
{"v":"477","t":2,"y":0.5},{"v":"477","t":3,"y":0.4},{"v":"477","t":4,"y":0.333},{"v":"477","t":5,"y":0.286},{"v":"477","t":6,"y":0.25},{"v":"477","t":7,"y":0.222},{"v":"477","t":8,"y":0.2},{"v":"477","t":9,"y":0.182},{"v":"477","t":10,"y":0.167},{"v":"477","t":11,"y":0.154},{"v":"477","t":12,"y":0.143},{"v":"477","t":20,"y":0.13},{"v":"477","t":40,"y":0.11},
{"v":"58","t":5,"y":0.4},{"v":"58","t":6,"y":0.5},{"v":"58","t":7,"y":0.4},{"v":"58","t":8,"y":0.333},{"v":"58","t":9,"y":0.286},{"v":"58","t":10,"y":0.25},{"v":"58","t":11,"y":0.222},{"v":"58","t":12,"y":0.2},{"v":"58","t":13,"y":0.182},{"v":"58","t":14,"y":0.167},{"v":"58","t":15,"y":0.154},{"v":"58","t":25,"y":0.15},{"v":"58","t":40,"y":0.13},
{"v":"286","t":20,"y":0.25},{"v":"286","t":23,"y":0.3},{"v":"286","t":27,"y":0.333},{"v":"286","t":28,"y":0.286},{"v":"286","t":29,"y":0.25},{"v":"286","t":30,"y":0.25},{"v":"286","t":33,"y":0.286},{"v":"286","t":34,"y":0.25},{"v":"286","t":40,"y":0.23}
],
"dR":[
{"v":"5","t":1,"y":0.5},{"v":"5","t":2,"y":0.5},{"v":"5","t":3,"y":0.667},{"v":"5","t":4,"y":0.667},{"v":"5","t":5,"y":0.667},{"v":"5","t":6,"y":0.75},{"v":"5","t":7,"y":0.75},{"v":"5","t":8,"y":0.8},{"v":"5","t":9,"y":0.833},{"v":"5","t":10,"y":0.857},{"v":"5","t":11,"y":0.875},{"v":"5","t":12,"y":0.875},{"v":"5","t":13,"y":0.889},{"v":"5","t":14,"y":0.9},{"v":"5","t":15,"y":0.9},{"v":"5","t":16,"y":0.91},{"v":"5","t":17,"y":0.917},{"v":"5","t":18,"y":0.92},{"v":"5","t":19,"y":0.925},{"v":"5","t":20,"y":0.93},
{"v":"2","t":1,"y":0.5},{"v":"2","t":2,"y":0.5},{"v":"2","t":3,"y":0.4},{"v":"2","t":4,"y":0.333},{"v":"2","t":5,"y":0.4},{"v":"2","t":6,"y":0.5},{"v":"2","t":7,"y":0.667},{"v":"2","t":8,"y":0.667},{"v":"2","t":9,"y":0.75},{"v":"2","t":10,"y":0.75},{"v":"2","t":11,"y":0.8},{"v":"2","t":12,"y":0.8},{"v":"2","t":13,"y":0.833},{"v":"2","t":14,"y":0.857},{"v":"2","t":15,"y":0.875},{"v":"2","t":16,"y":0.889},{"v":"2","t":17,"y":0.9},{"v":"2","t":18,"y":0.905},{"v":"2","t":19,"y":0.913},{"v":"2","t":20,"y":0.92},
{"v":"4","t":1,"y":0.5},{"v":"4","t":2,"y":0.333},{"v":"4","t":3,"y":0.25},{"v":"4","t":4,"y":0.333},{"v":"4","t":5,"y":0.4},{"v":"4","t":6,"y":0.43},{"v":"4","t":8,"y":0.43},{"v":"4","t":9,"y":0.5},{"v":"4","t":10,"y":0.5},{"v":"4","t":11,"y":0.6},{"v":"4","t":12,"y":0.6},{"v":"4","t":13,"y":0.667},{"v":"4","t":14,"y":0.714},{"v":"4","t":15,"y":0.75},{"v":"4","t":16,"y":0.778},{"v":"4","t":17,"y":0.7},{"v":"4","t":18,"y":0.727},{"v":"4","t":19,"y":0.727},{"v":"4","t":20,"y":0.75},
{"v":"3","t":3,"y":0.5},{"v":"3","t":4,"y":0.4},{"v":"3","t":5,"y":0.333},{"v":"3","t":6,"y":0.5},{"v":"3","t":7,"y":0.4},{"v":"3","t":8,"y":0.333},{"v":"3","t":9,"y":0.43},{"v":"3","t":11,"y":0.43},{"v":"3","t":12,"y":0.375},{"v":"3","t":14,"y":0.375},{"v":"3","t":15,"y":0.44},{"v":"3","t":18,"y":0.44},{"v":"3","t":19,"y":0.5},{"v":"3","t":20,"y":0.5},
{"v":"1","t":4,"y":0.5},{"v":"1","t":5,"y":0.4},{"v":"1","t":6,"y":0.333},{"v":"1","t":7,"y":0.286},{"v":"1","t":8,"y":0.25},{"v":"1","t":9,"y":0.25},{"v":"1","t":10,"y":0.333},{"v":"1","t":11,"y":0.4},{"v":"1","t":12,"y":0.4},{"v":"1","t":13,"y":0.44},{"v":"1","t":15,"y":0.44},{"v":"1","t":16,"y":0.47},{"v":"1","t":17,"y":0.5},{"v":"1","t":18,"y":0.55},{"v":"1","t":19,"y":0.58},{"v":"1","t":20,"y":0.615}
],
"dK":[
{"v":"17","t":1,"y":0.5},{"v":"17","t":2,"y":0.333},{"v":"17","t":3,"y":0.25},{"v":"17","t":4,"y":0.2},{"v":"17","t":5,"y":0.167},{"v":"17","t":6,"y":0.143},{"v":"17","t":8,"y":0.143},{"v":"17","t":10,"y":0.125},{"v":"17","t":15,"y":0.11},{"v":"17","t":20,"y":0.095},
{"v":"208","t":1,"y":0.5},{"v":"208","t":2,"y":0.667},{"v":"208","t":3,"y":0.5},{"v":"208","t":4,"y":0.4},{"v":"208","t":5,"y":0.333},{"v":"208","t":6,"y":0.286},{"v":"208","t":7,"y":0.25},{"v":"208","t":8,"y":0.222},{"v":"208","t":9,"y":0.2},{"v":"208","t":12,"y":0.2},{"v":"208","t":20,"y":0.17},
{"v":"91","t":2,"y":0.5},{"v":"91","t":3,"y":0.667},{"v":"91","t":4,"y":0.5},{"v":"91","t":5,"y":0.4},{"v":"91","t":6,"y":0.333},{"v":"91","t":7,"y":0.286},{"v":"91","t":8,"y":0.25},{"v":"91","t":14,"y":0.25},{"v":"91","t":20,"y":0.22},
{"v":"466","t":2,"y":0.5},{"v":"466","t":3,"y":0.333},{"v":"466","t":19,"y":0.333},{"v":"466","t":20,"y":0.333},
{"v":"43","t":3,"y":0.5},{"v":"43","t":4,"y":0.4},{"v":"43","t":16,"y":0.4},{"v":"43","t":17,"y":0.4},{"v":"43","t":18,"y":0.333},{"v":"43","t":19,"y":0.37},{"v":"43","t":20,"y":0.37},
{"v":"355","t":3,"y":0.5},{"v":"355","t":4,"y":0.333},{"v":"355","t":5,"y":0.25},{"v":"355","t":6,"y":0.2},{"v":"355","t":7,"y":0.167},{"v":"355","t":8,"y":0.143},{"v":"355","t":9,"y":0.125},{"v":"355","t":12,"y":0.125},{"v":"355","t":20,"y":0.1},
{"v":"128","t":4,"y":0.5},{"v":"128","t":5,"y":0.333},{"v":"128","t":6,"y":0.25},{"v":"128","t":7,"y":0.2},{"v":"128","t":8,"y":0.182},{"v":"128","t":13,"y":0.182},{"v":"128","t":20,"y":0.15},
{"v":"274","t":5,"y":0.5},{"v":"274","t":6,"y":0.333},{"v":"274","t":7,"y":0.25},{"v":"274","t":8,"y":0.2},{"v":"274","t":9,"y":0.167},{"v":"274","t":10,"y":0.154},{"v":"274","t":20,"y":0.13},
{"v":"59","t":6,"y":0.5},{"v":"59","t":7,"y":0.333},{"v":"59","t":8,"y":0.25},{"v":"59","t":9,"y":0.222},{"v":"59","t":11,"y":0.222},{"v":"59","t":20,"y":0.2},
{"v":"412","t":7,"y":0.5},{"v":"412","t":8,"y":0.333},{"v":"412","t":9,"y":0.25},{"v":"412","t":10,"y":0.2},{"v":"412","t":11,"y":0.167},{"v":"412","t":12,"y":0.143},{"v":"412","t":13,"y":0.133},{"v":"412","t":20,"y":0.11},
{"v":"186","t":8,"y":0.5},{"v":"186","t":9,"y":0.333},{"v":"186","t":10,"y":0.25},{"v":"186","t":11,"y":0.2},{"v":"186","t":12,"y":0.182},{"v":"186","t":20,"y":0.16},
{"v":"333","t":9,"y":0.5},{"v":"333","t":10,"y":0.333},{"v":"333","t":11,"y":0.25},{"v":"333","t":12,"y":0.2},{"v":"333","t":13,"y":0.167},{"v":"333","t":14,"y":0.154},{"v":"333","t":15,"y":0.143},{"v":"333","t":20,"y":0.12},
{"v":"25","t":10,"y":0.5},{"v":"25","t":11,"y":0.333},{"v":"25","t":12,"y":0.286},{"v":"25","t":13,"y":0.25},{"v":"25","t":14,"y":0.222},{"v":"25","t":15,"y":0.2},{"v":"25","t":16,"y":0.182},{"v":"25","t":17,"y":0.167},{"v":"25","t":20,"y":0.14},
{"v":"147","t":12,"y":0.333},{"v":"147","t":13,"y":0.4},{"v":"147","t":16,"y":0.4},{"v":"147","t":17,"y":0.333},{"v":"147","t":18,"y":0.286},{"v":"147","t":19,"y":0.25},{"v":"147","t":20,"y":0.25},
{"v":"298","t":11,"y":0.25},{"v":"298","t":12,"y":0.333},{"v":"298","t":13,"y":0.286},{"v":"298","t":14,"y":0.25},{"v":"298","t":15,"y":0.222},{"v":"298","t":16,"y":0.2},{"v":"298","t":17,"y":0.2},{"v":"298","t":20,"y":0.182},
{"v":"71","t":14,"y":0.25},{"v":"71","t":15,"y":0.333},{"v":"71","t":16,"y":0.286},{"v":"71","t":17,"y":0.4},{"v":"71","t":18,"y":0.333},{"v":"71","t":19,"y":0.286},{"v":"71","t":20,"y":0.286},
{"v":"420","t":16,"y":0.25},{"v":"420","t":17,"y":0.333},{"v":"420","t":18,"y":0.286},{"v":"420","t":19,"y":0.25},{"v":"420","t":20,"y":0.222},
{"v":"8","t":5,"y":0.4},{"v":"8","t":6,"y":0.5},{"v":"8","t":7,"y":0.4},{"v":"8","t":8,"y":0.333},{"v":"8","t":9,"y":0.286},{"v":"8","t":10,"y":0.25},{"v":"8","t":11,"y":0.222},{"v":"8","t":12,"y":0.2},{"v":"8","t":13,"y":0.182},{"v":"8","t":14,"y":0.167},{"v":"8","t":15,"y":0.154},{"v":"8","t":16,"y":0.143},{"v":"8","t":20,"y":0.12},
{"v":"236","t":8,"y":0.4},{"v":"236","t":9,"y":0.5},{"v":"236","t":10,"y":0.4},{"v":"236","t":11,"y":0.333},{"v":"236","t":12,"y":0.286},{"v":"236","t":13,"y":0.25},{"v":"236","t":14,"y":0.222},{"v":"236","t":15,"y":0.2},{"v":"236","t":16,"y":0.182},{"v":"236","t":17,"y":0.167},{"v":"236","t":18,"y":0.154},{"v":"236","t":19,"y":0.143},{"v":"236","t":20,"y":0.133},
{"v":"391","t":2,"y":0.5},{"v":"391","t":3,"y":0.4},{"v":"391","t":4,"y":0.333},{"v":"391","t":5,"y":0.286},{"v":"391","t":6,"y":0.25},{"v":"391","t":7,"y":0.222},{"v":"391","t":8,"y":0.2},{"v":"391","t":9,"y":0.182},{"v":"391","t":10,"y":0.167},{"v":"391","t":11,"y":0.154},{"v":"391","t":12,"y":0.143},{"v":"391","t":13,"y":0.133},{"v":"391","t":14,"y":0.125},{"v":"391","t":20,"y":0.105},
{"v":"164","t":4,"y":0.5},{"v":"164","t":5,"y":0.4},{"v":"164","t":6,"y":0.333},{"v":"164","t":7,"y":0.286},{"v":"164","t":8,"y":0.25},{"v":"164","t":9,"y":0.222},{"v":"164","t":10,"y":0.2},{"v":"164","t":11,"y":0.182},{"v":"164","t":12,"y":0.167},{"v":"164","t":13,"y":0.154},{"v":"164","t":14,"y":0.143},{"v":"164","t":15,"y":0.133},{"v":"164","t":20,"y":0.11}
]
},
"hconcat":[
{"title":{"text":"(a)  s = 100","orient":"bottom","anchor":"start","frame":"group","font":"Liberation Serif","fontSize":28,"fontWeight":"normal","color":"#000000","offset":28,"dx":42},
"vconcat":[{
"title":{"text":"TVS: Inclusion Probability Plot","anchor":"middle","frame":"group","font":"Liberation Sans Narrow, DejaVu Sans Condensed, sans-serif","fontSize":11.5,"fontWeight":"bold","color":"#111111","offset":25},
"width":237,"height":308,
"encoding":{
"x":{"field":"t","type":"quantitative","scale":{"domain":[-6.96,207.96],"nice":false,"zero":false},"axis":{"values":[0,50,100,150,200],"title":"Time"}},
"y":{"field":"y","type":"quantitative","scale":{"domain":[-0.04,1.04],"nice":false,"zero":false},"axis":{"values":[0,0.2,0.4,0.6,0.8,1],"format":".1f","title":"Inclusion Probability"}}},
"layer":[
{"data":{"name":"aR"},"mark":{"type":"line","color":"#ff4f4f","strokeWidth":1,"clip":true},"encoding":{"detail":{"field":"v"}}},
{"data":{"name":"aK"},"mark":{"type":"line","color":"#000000","strokeWidth":1.6,"opacity":0.9,"clip":true},"encoding":{"detail":{"field":"v"}}},
{"data":{"values":[{"t":-6.96,"y":0.5},{"t":207.96,"y":0.5}]},"mark":{"type":"line","color":"#a6a6a6","strokeDash":[6,5],"strokeWidth":1.5},"encoding":{}},
{"data":{"name":"aK"},"transform":[{"filter":"datum.t == 200"}],"mark":{"type":"text","align":"center","font":"Liberation Sans Narrow, DejaVu Sans Condensed, sans-serif","fontSize":12,"color":"#000000","clip":true},"encoding":{"text":{"field":"v"}}},
{"data":{"name":"aR"},"transform":[{"filter":"datum.t == 200"}],"mark":{"type":"text","align":"center","font":"Liberation Sans Narrow, DejaVu Sans Condensed, sans-serif","fontSize":12,"color":"#222222","clip":true},"encoding":{"text":{"field":"v"}}}
]}]},
{"title":{"text":"(b)  s = 200","orient":"bottom","anchor":"start","frame":"group","font":"Liberation Serif","fontSize":28,"fontWeight":"normal","color":"#000000","offset":28,"dx":42},
"vconcat":[{
"title":{"text":"TVS: Inclusion Probability Plot","anchor":"middle","frame":"group","font":"Liberation Sans Narrow, DejaVu Sans Condensed, sans-serif","fontSize":11.5,"fontWeight":"bold","color":"#111111","offset":25},
"width":239,"height":308,
"encoding":{
"x":{"field":"t","type":"quantitative","scale":{"domain":[-2.96,103.96],"nice":false,"zero":false},"axis":{"values":[0,20,40,60,80,100],"title":"Time"}},
"y":{"field":"y","type":"quantitative","scale":{"domain":[-0.04,1.04],"nice":false,"zero":false},"axis":{"values":[0,0.2,0.4,0.6,0.8,1],"format":".1f","title":"Inclusion Probability"}}},
"layer":[
{"data":{"name":"bR"},"mark":{"type":"line","color":"#ff4f4f","strokeWidth":1,"clip":true},"encoding":{"detail":{"field":"v"}}},
{"data":{"name":"bK"},"mark":{"type":"line","color":"#000000","strokeWidth":1.4,"opacity":0.9,"clip":true},"encoding":{"detail":{"field":"v"}}},
{"data":{"values":[{"t":-2.96,"y":0.5},{"t":103.96,"y":0.5}]},"mark":{"type":"line","color":"#a6a6a6","strokeDash":[6,5],"strokeWidth":1.5},"encoding":{}},
{"data":{"name":"bK"},"transform":[{"filter":"datum.t == 100"}],"mark":{"type":"text","align":"center","font":"Liberation Sans Narrow, DejaVu Sans Condensed, sans-serif","fontSize":12,"color":"#000000","clip":true},"encoding":{"text":{"field":"v"}}},
{"data":{"name":"bR"},"transform":[{"filter":"datum.t == 100"}],"mark":{"type":"text","align":"center","font":"Liberation Sans Narrow, DejaVu Sans Condensed, sans-serif","fontSize":12,"color":"#222222","clip":true},"encoding":{"text":{"field":"v"}}}
]}]},
{"title":{"text":"(c)  s = 500","orient":"bottom","anchor":"start","frame":"group","font":"Liberation Serif","fontSize":28,"fontWeight":"normal","color":"#000000","offset":28,"dx":43},
"vconcat":[{
"title":{"text":"TVS: Inclusion Probability Plot","anchor":"middle","frame":"group","font":"Liberation Sans Narrow, DejaVu Sans Condensed, sans-serif","fontSize":11.5,"fontWeight":"bold","color":"#111111","offset":25},
"width":237,"height":308,
"encoding":{
"x":{"field":"t","type":"quantitative","scale":{"domain":[-0.56,41.56],"nice":false,"zero":false},"axis":{"values":[0,10,20,30,40],"title":"Time"}},
"y":{"field":"y","type":"quantitative","scale":{"domain":[-0.04,1.04],"nice":false,"zero":false},"axis":{"values":[0,0.2,0.4,0.6,0.8,1],"format":".1f","title":"Inclusion Probability"}}},
"layer":[
{"data":{"name":"cR"},"mark":{"type":"line","color":"#ff4f4f","strokeWidth":1,"clip":true},"encoding":{"detail":{"field":"v"}}},
{"data":{"name":"cK"},"mark":{"type":"line","color":"#000000","strokeWidth":1,"opacity":0.85,"clip":true},"encoding":{"detail":{"field":"v"}}},
{"data":{"values":[{"t":-0.56,"y":0.5},{"t":41.56,"y":0.5}]},"mark":{"type":"line","color":"#a6a6a6","strokeDash":[6,5],"strokeWidth":1.5},"encoding":{}},
{"data":{"name":"cK"},"transform":[{"filter":"datum.t == 40"}],"mark":{"type":"text","align":"center","font":"Liberation Sans Narrow, DejaVu Sans Condensed, sans-serif","fontSize":12,"color":"#000000","clip":true},"encoding":{"text":{"field":"v"}}},
{"data":{"name":"cR"},"transform":[{"filter":"datum.t == 40"}],"mark":{"type":"text","align":"center","font":"Liberation Sans Narrow, DejaVu Sans Condensed, sans-serif","fontSize":12,"color":"#222222","clip":true},"encoding":{"text":{"field":"v"}}}
]}]},
{"title":{"text":"(d)  s = 1 000","orient":"bottom","anchor":"start","frame":"group","font":"Liberation Serif","fontSize":28,"fontWeight":"normal","color":"#000000","offset":28,"dx":35},
"vconcat":[{
"title":{"text":"TVS: Inclusion Probability Plot","anchor":"middle","frame":"group","font":"Liberation Sans Narrow, DejaVu Sans Condensed, sans-serif","fontSize":11.5,"fontWeight":"bold","color":"#111111","offset":25},
"width":233,"height":308,
"encoding":{
"x":{"field":"t","type":"quantitative","scale":{"domain":[0.24,20.42],"nice":false,"zero":false},"axis":{"values":[5,10,15,20],"title":"Time","labelBound":3}},
"y":{"field":"y","type":"quantitative","scale":{"domain":[-0.04,1.04],"nice":false,"zero":false},"axis":{"values":[0,0.2,0.4,0.6,0.8,1],"format":".1f","title":"Inclusion Probability"}}},
"layer":[
{"data":{"name":"dR"},"mark":{"type":"line","color":"#ff4f4f","strokeWidth":1,"clip":true},"encoding":{"detail":{"field":"v"}}},
{"data":{"name":"dK"},"mark":{"type":"line","color":"#000000","strokeWidth":1,"opacity":0.85,"clip":true},"encoding":{"detail":{"field":"v"}}},
{"data":{"values":[{"t":0.24,"y":0.5},{"t":20.42,"y":0.5}]},"mark":{"type":"line","color":"#a6a6a6","strokeDash":[6,5],"strokeWidth":1.5},"encoding":{}},
{"data":{"name":"dK"},"transform":[{"filter":"datum.t == 20"}],"mark":{"type":"text","align":"center","font":"Liberation Sans Narrow, DejaVu Sans Condensed, sans-serif","fontSize":12,"color":"#000000","clip":true},"encoding":{"text":{"field":"v"}}},
{"data":{"name":"dR"},"transform":[{"filter":"datum.t == 20"}],"mark":{"type":"text","align":"center","font":"Liberation Sans Narrow, DejaVu Sans Condensed, sans-serif","fontSize":12,"color":"#222222","clip":true},"encoding":{"text":{"field":"v"}}}
]}]}
]
}
